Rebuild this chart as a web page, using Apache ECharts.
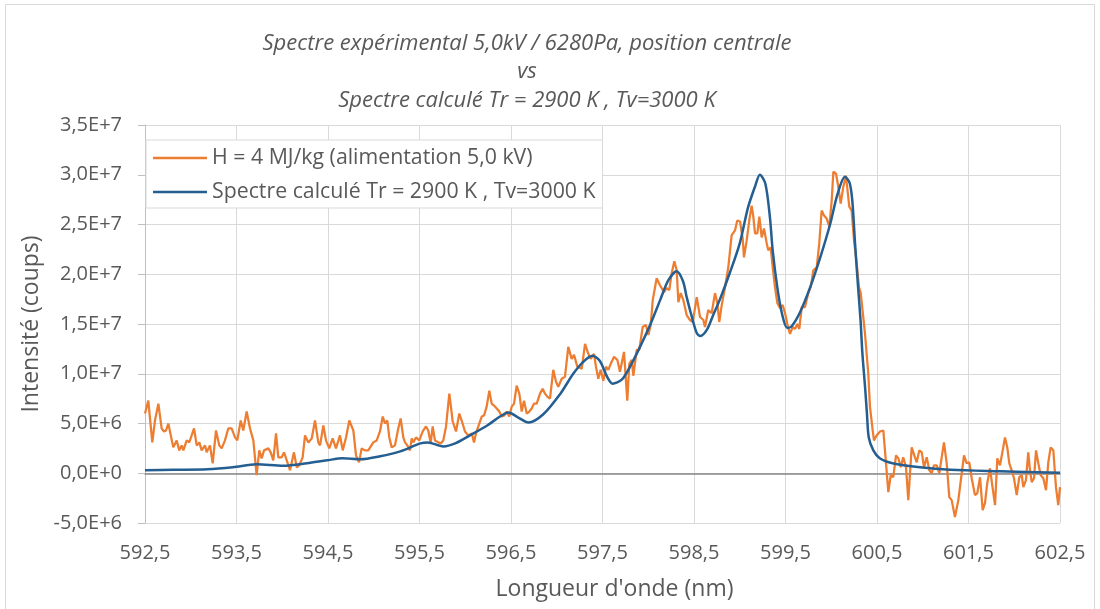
<!DOCTYPE html>
<html>
<head>
<meta charset="utf-8">
<title>Spectre expérimental vs spectre calculé</title>
<script src="https://cdn.jsdelivr.net/npm/echarts@6/dist/echarts.min.js"></script>
<style>
  html, body { margin: 0; padding: 0; background: #ffffff; }
  #chart { width: 1100px; height: 609px; }
</style>
</head>
<body>
<div id="chart"></div>
<script>
// Title lines
const titleLines = [
  'Spectre expérimental 5,0kV / 6280Pa, position centrale',
  'vs',
  'Spectre calculé Tr = 2900 K , Tv=3000 K'
];
const seriesNames = [
  'H = 4 MJ/kg (alimentation 5,0 kV)',
  'Spectre calculé Tr = 2900 K , Tv=3000 K'
];
const xAxisTitle = "Longueur d'onde (nm)";
const yAxisTitle = 'Intensité (coups)';

// Axis ranges
const xMin = 592.5, xMax = 602.5, xStep = 1;
const yMin = -5e6, yMax = 3.5e7, yStep = 5e6;

// Measured spectrum: wavelength (nm) and intensity (millions of counts)
const expWavelength = [
  592.500,592.536,592.555,592.580,592.609,592.646,592.682,592.708,592.730,592.755,
  592.773,592.809,592.846,592.875,592.901,592.919,592.956,592.984,593.010,593.036,
  593.065,593.094,593.119,593.156,593.174,593.210,593.240,593.276,593.312,593.338,
  593.374,593.410,593.447,593.484,593.509,593.546,593.574,593.611,593.648,593.684,
  593.720,593.749,593.775,593.801,593.848,593.874,593.902,593.932,593.957,593.994,
  594.019,594.049,594.085,594.128,594.158,594.186,594.223,594.249,594.285,594.322,
  594.358,594.394,594.413,594.449,594.478,594.514,594.551,594.587,594.631,594.661,
  594.697,594.733,594.777,594.806,594.839,594.868,594.904,594.940,594.995,595.032,
  595.068,595.098,595.123,595.148,595.170,595.196,595.232,595.268,595.294,595.323,
  595.342,595.367,595.396,595.415,595.432,595.462,595.498,595.535,595.571,595.596,
  595.622,595.644,595.669,595.706,595.732,595.760,595.790,595.826,595.863,595.899,
  595.935,595.961,595.997,596.033,596.071,596.096,596.117,596.143,596.180,596.205,
  596.234,596.263,596.289,596.314,596.344,596.372,596.398,596.427,596.453,596.481,
  596.508,596.533,596.562,596.591,596.617,596.642,596.672,596.700,596.726,596.751,
  596.781,596.817,596.846,596.872,596.897,596.926,596.962,596.992,597.017,597.054,
  597.090,597.126,597.163,597.189,597.225,597.273,597.309,597.345,597.371,597.407,
  597.429,597.454,597.480,597.509,597.538,597.564,597.590,597.626,597.662,597.691,
  597.735,597.771,597.793,597.819,597.837,597.874,597.902,597.939,597.975,598.001,
  598.027,598.049,598.092,598.128,598.172,598.202,598.230,598.256,598.285,598.311,
  598.329,598.355,598.383,598.420,598.456,598.486,598.511,598.530,598.566,598.602,
  598.620,598.656,598.693,598.730,598.755,598.776,598.803,598.839,598.875,598.911,
  598.948,598.973,599.003,599.032,599.046,599.076,599.104,599.130,599.148,599.167,
  599.192,599.214,599.240,599.265,599.295,599.312,599.338,599.360,599.385,599.411,
  599.440,599.469,599.495,599.520,599.549,599.579,599.604,599.629,599.651,599.677,
  599.713,599.749,599.776,599.804,599.841,599.869,599.895,599.921,599.950,599.979,
  600.005,600.023,600.052,600.077,600.103,600.132,600.161,600.197,600.223,600.249,
  600.278,600.303,600.322,600.336,600.350,600.369,600.387,600.405,600.423,600.453,
  600.467,600.496,600.533,600.569,600.587,600.624,600.650,600.678,600.708,600.733,
  600.759,600.787,600.817,600.842,600.879,600.915,600.934,600.962,600.989,601.014,
  601.043,601.072,601.098,601.123,601.153,601.181,601.207,601.232,601.262,601.290,
  601.316,601.352,601.389,601.426,601.451,601.480,601.509,601.535,601.571,601.596,
  601.626,601.655,601.680,601.705,601.735,601.764,601.790,601.815,601.844,601.874,
  601.899,601.924,601.946,601.972,601.997,602.027,602.055,602.082,602.099,602.128,
  602.153,602.172,602.191,602.216,602.238,602.263,602.289,602.318,602.347,602.372,
  602.398,602.427,602.456,602.481,602.500
];
const expIntensity = [
  6.0,7.3,7.3,3.1,5.3,7.0,4.5,4.2,4.3,5.0,
  5.0,2.6,3.3,2.3,2.8,2.3,3.3,3.1,3.8,4.5,
  2.8,3.1,2.3,2.8,2.1,2.8,1.0,4.3,2.8,2.5,
  3.3,4.5,4.5,3.6,3.3,5.3,4.3,6.2,4.5,3.3,
  -0.2,2.3,1.5,2.3,2.5,2.1,1.3,4.0,1.6,1.6,
  2.1,1.3,0.3,2.1,0.6,0.8,1.6,3.8,3.1,3.5,
  5.3,3.1,2.8,4.8,3.3,2.5,3.5,2.5,3.8,2.3,
  3.6,5.3,4.3,1.8,1.1,2.5,2.3,2.3,3.1,3.3,
  4.2,5.7,5.0,5.3,3.6,2.6,2.8,4.5,5.5,3.6,
  3.1,2.8,2.3,3.5,3.1,3.6,3.3,4.2,4.7,4.3,
  3.0,4.7,3.3,3.1,3.0,3.3,4.7,8.0,5.2,4.2,
  6.0,5.3,4.2,3.8,4.0,3.1,4.0,4.7,5.7,5.8,
  6.7,8.3,7.0,6.8,6.5,6.2,5.7,5.8,6.2,5.7,
  6.7,7.0,8.8,8.0,6.2,7.3,6.0,6.2,6.5,7.0,
  7.0,8.0,8.5,8.0,7.7,7.5,10.4,9.2,8.7,9.5,
  9.7,12.7,11.5,11.9,10.7,10.5,13.0,12.0,11.5,12.0,
  10.7,9.5,10.4,9.3,10.7,10.4,11.0,11.7,11.4,10.2,
  12.2,7.3,11.0,11.4,9.8,12.4,12.4,14.7,14.9,13.9,
  14.9,17.4,19.6,18.9,18.2,18.6,18.4,20.1,21.3,20.4,
  17.2,18.1,17.4,15.9,15.4,15.2,16.6,17.7,15.7,15.4,
  14.7,16.4,16.1,18.1,17.1,15.2,16.9,18.7,20.7,23.9,
  24.4,25.4,25.3,23.6,21.7,23.4,25.4,26.9,25.8,24.1,
  24.1,25.8,23.7,24.6,23.1,22.4,22.7,20.7,18.7,17.1,
  16.6,16.9,16.1,15.0,14.0,14.7,14.5,15.0,14.5,16.7,
  16.7,18.1,18.7,20.4,20.7,23.1,26.4,25.9,25.6,24.8,
  27.4,30.3,30.1,28.8,27.1,28.8,29.9,26.8,26.4,23.4,
  21.1,18.7,18.1,18.2,15.7,14.0,13.9,10.0,6.7,4.3,
  3.3,3.8,4.2,4.3,2.3,-1.9,-0.2,-0.4,1.8,1.5,
  0.6,1.6,0.6,-2.7,2.6,1.6,1.1,2.3,2.1,0.6,
  1.6,0.3,0.0,0.8,0.8,0.0,1.6,3.1,1.0,-2.4,
  -2.7,-4.4,-2.7,0.0,1.8,1.0,1.1,-0.5,-2.2,-2.0,
  -0.4,-3.7,-3.0,-1.0,0.5,-1.5,-3.2,1.5,0.8,2.3,
  3.6,2.6,1.0,0.3,-0.5,-2.2,-0.4,-0.2,-1.4,-0.7,
  2.1,0.3,-0.9,-0.5,2.3,1.0,-0.2,-0.5,-1.7,1.1,
  2.6,2.3,-1.4,-3.2,-1.4
];

// Computed spectrum: wavelength (nm) and intensity (millions of counts)
const calcWavelength = [
  592.50,592.81,593.18,593.46,593.72,594.01,594.27,594.49,594.66,594.85,
  595.07,595.29,595.51,595.59,595.76,595.89,596.05,596.24,596.38,596.47,
  596.58,596.69,596.85,597.04,597.18,597.29,597.39,597.47,597.55,597.61,
  597.71,597.80,597.91,598.02,598.13,598.22,598.31,598.38,598.42,598.48,
  598.53,598.57,598.64,598.71,598.78,598.89,599.00,599.09,599.17,599.22,
  599.28,599.33,599.36,599.41,599.46,599.52,599.57,599.66,599.77,599.88,
  599.99,600.07,600.15,600.20,600.23,600.26,600.29,600.32,600.34,600.37,
  600.39,600.41,600.46,600.53,600.67,600.97,601.30,601.84,602.50
];
const calcIntensity = [
  0.3,0.35,0.4,0.6,0.9,0.75,1.0,1.3,1.5,1.4,
  1.7,2.2,3.0,3.1,2.7,3.0,3.8,4.8,5.7,6.1,
  5.6,5.1,5.9,8.0,10.0,11.2,11.8,11.3,9.7,9.0,
  9.4,10.7,12.7,14.9,17.4,19.4,20.3,19.3,17.7,15.6,
  14.1,13.8,14.4,15.9,17.4,20.1,23.1,26.7,28.9,30.0,
  29.1,25.7,22.4,18.7,16.1,14.6,14.8,16.2,18.7,21.7,
  25.1,28.1,29.8,29.2,27.4,23.1,19.1,15.4,12.1,8.6,
  6.0,3.6,2.3,1.5,1.0,0.6,0.35,0.2,0.05
];

const MEGA = 1e6;
const toPairs = (xs, ys) => xs.map((x, i) => [x, ys[i] * MEGA]);

const FONT = '"Open Sans", "Liberation Sans", sans-serif';
const TEXT = '#595959';
const GRID_LINE = '#d9d9d9';
const ORANGE = '#ED7D31';
const BLUE = '#255E91';

const chart = echarts.init(document.getElementById('chart'), null, { renderer: 'canvas' });

chart.setOption({
  animation: false,
  backgroundColor: '#ffffff',
  graphic: [{
    type: 'rect',
    silent: true,
    z: -10,
    shape: { x: 5.5, y: 4.5, width: 1089, height: 640 },
    style: { fill: 'none', stroke: GRID_LINE, lineWidth: 1 }
  }],
  title: {
    text: titleLines.join('\n'),
    left: 527,
    top: 29,
    padding: 0,
    textAlign: 'center',
    textStyle: {
      fontFamily: FONT,
      fontStyle: 'italic',
      fontWeight: 'normal',
      fontSize: 22,
      lineHeight: 28.5,
      color: TEXT
    }
  },
  legend: {
    orient: 'vertical',
    left: 146,
    top: 140,
    padding: [6, 7, 4, 7],
    itemGap: 10,
    itemWidth: 54,
    itemHeight: 2.5,
    backgroundColor: '#ffffff',
    borderColor: GRID_LINE,
    borderWidth: 1,
    borderRadius: 0,
    textStyle: { fontFamily: FONT, fontSize: 21.3, lineHeight: 24, color: TEXT },
    data: [
      { name: seriesNames[0], icon: 'rect', itemStyle: { color: ORANGE } },
      { name: seriesNames[1], icon: 'rect', itemStyle: { color: BLUE } }
    ]
  },
  grid: {
    left: 145,
    top: 125,
    width: 915,
    height: 398,
    containLabel: false,
    outerBoundsMode: 'none'
  },
  xAxis: [{
    type: 'value',
    min: xMin,
    max: xMax,
    interval: xStep,
    position: 'bottom',
    name: xAxisTitle,
    nameLocation: 'middle',
    nameGap: 55,
    nameTextStyle: { fontFamily: FONT, fontSize: 23, color: TEXT, padding: [0, 0, 0, 24] },
    axisLine: { show: false, onZero: false },
    axisTick: { show: false },
    splitLine: { show: true, lineStyle: { color: GRID_LINE, width: 1 } },
    axisLabel: {
      showMinLabel: true,
      showMaxLabel: true,
      margin: 20,
      fontFamily: FONT,
      fontSize: 20,
      color: TEXT,
      formatter: v => v.toFixed(1).replace('.', ',')
    }
  }, {
    // horizontal axis line drawn at zero intensity
    type: 'value',
    min: xMin,
    max: xMax,
    position: 'bottom',
    axisLine: { show: true, onZero: true, lineStyle: { color: '#868686', width: 1.5 } },
    axisTick: { show: false },
    axisLabel: { show: false },
    splitLine: { show: false }
  }],
  yAxis: {
    type: 'value',
    min: yMin,
    max: yMax,
    interval: yStep,
    name: yAxisTitle,
    nameLocation: 'middle',
    nameGap: 100,
    nameTextStyle: { fontFamily: FONT, fontSize: 23, color: TEXT },
    axisLine: { show: true, onZero: false, lineStyle: { color: '#bfbfbf', width: 1 } },
    axisTick: { show: true, inside: false, length: 7, lineStyle: { color: '#bfbfbf', width: 1 } },
    splitLine: { show: true, lineStyle: { color: GRID_LINE, width: 1 } },
    axisLabel: {
      margin: 23,
      fontFamily: FONT,
      fontSize: 20,
      color: TEXT,
      formatter: v => v.toExponential(1).replace('.', ',').replace('e', 'E')
    }
  },
  series: [{
    name: seriesNames[0],
    type: 'line',
    xAxisIndex: 0,
    symbol: 'none',
    z: 3,
    color: ORANGE,
    lineStyle: { color: ORANGE, width: 2.25 },
    data: toPairs(expWavelength, expIntensity)
  }, {
    name: seriesNames[1],
    type: 'line',
    xAxisIndex: 0,
    symbol: 'none',
    smooth: 0.3,
    z: 4,
    color: BLUE,
    lineStyle: { color: BLUE, width: 2.5 },
    data: toPairs(calcWavelength, calcIntensity)
  }]
});
</script>
</body>
</html>
